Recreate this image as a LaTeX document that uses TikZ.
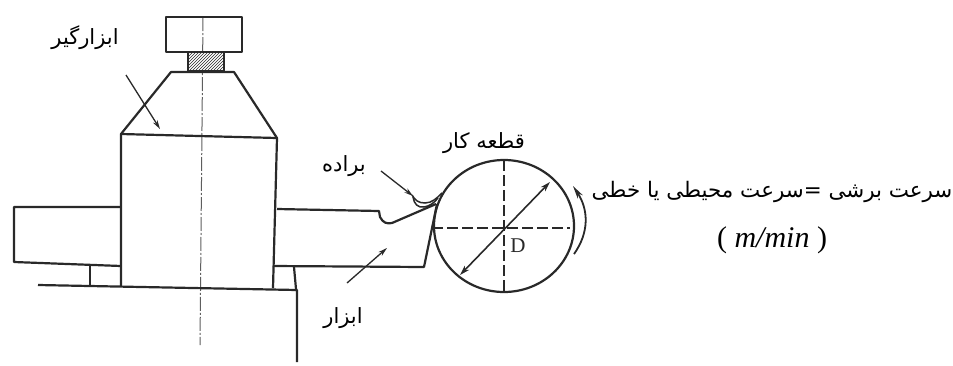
\documentclass[tikz,border=0pt]{standalone}
\usepackage{fontspec}
\usetikzlibrary{patterns,arrows.meta}
\TeXXeTstate=1
\newfontfamily\arabicfont[Script=Arabic]{DejaVu Sans}
\setmainfont{Liberation Serif}
\definecolor{ink}{gray}{0.16}
\tikzset{
  part/.style={draw=ink,line width=2.2pt,line join=round},
  thin part/.style={draw=ink,line width=1.5pt},
  axis/.style={draw=ink!75,line width=1pt,dash pattern=on 14pt off 2pt on 2pt off 2pt},
  dashline/.style={draw=ink,line width=1.4pt,dash pattern=on 11pt off 4pt},
  leader/.style={draw=ink,line width=1.3pt,-{Stealth[length=9pt,width=5pt]}},
  label/.style={font=\arabicfont\fontsize{21}{24}\selectfont,text=black,inner sep=0pt,anchor=center},
}
\begin{document}
\begin{tikzpicture}[x=1pt,y=-1pt]
\useasboundingbox (0,0) rectangle (953,365);
% axis
\coordinate (axT) at (203,17); \coordinate (axB) at (200,345);
\draw[axis] (axT) -- (axB);
% top cap and hatched neck
\draw[part] (166,17) rectangle (242,52);
\fill[white] (188,52) rectangle (224,71);
\draw[pattern=north east lines,pattern color=ink,draw=ink,line width=1.6pt] (188,52) rectangle (224,71);
% tool holder
\coordinate (hTL) at (171,72); \coordinate (hTR) at (234,72);
\coordinate (hML) at (121,134); \coordinate (hMR) at (277,138);
\coordinate (hBL) at (121,286); \coordinate (hBR) at (273,288);
\draw[part] (hBL) -- (hML) -- (hTL) -- (hTR) -- (hMR) -- (hBR);
\draw[part] (hML) -- (hMR);
% left block
\draw[part] (121,207) -- (14,207) -- (14,262) -- (121,266);
\draw[part] (90,265) -- (90,286);
% base
\draw[part] (38,285) -- (297,290) -- (297,362);
\draw[part] (294,267) -- (296,289);
% tool
\draw[part] (277,209) -- (379,211) -- (380,217) .. controls (383,223) and (387,224) .. (392,223) -- (436,204);
\draw[part] (273,266) -- (424,267) -- (437,204);
% chip
\draw[thin part] (412,195) .. controls (415,200) and (418,203) .. (425,203) .. controls (432,203) and (437,198) .. (442,193);
\draw[thin part] (413,197) .. controls (414,204) and (418,208) .. (424,207) .. controls (430,206) and (434,203) .. (438,198);
% workpiece
\coordinate (wc) at (504,226);
\draw[part] (wc) ellipse [x radius=70,y radius=66];
\draw[dashline] (432,228) -- (570,228);
\draw[dashline] (504,160) -- (504,292);
\draw[draw=ink,line width=1.6pt,{Stealth[length=10pt,width=6pt]}-{Stealth[length=10pt,width=6pt]}] (460,275) -- (550,182);
\node[font=\fontsize{21}{23}\selectfont,text=ink,inner sep=0pt] (D) at (518,246) {D};
% rotation arrow
\draw[draw=ink,line width=1.8pt,-{Stealth[length=13pt,width=6pt]}] (574,254) .. controls (589,233) and (589,210) .. (573,186);
% labels
\node[label] (holder) at (85,38) {\beginR ابزارگیر\endR};
\node[label] (work) at (484,143) {\beginR قطعه کار\endR};
\node[label] (chip) at (344,166) {\beginR براده\endR};
\node[label] (tool) at (343,318) {\beginR ابزار\endR};
\node[label,font=\arabicfont\fontsize{21.4}{24}\selectfont] (speed) at (772,192) {\beginR سرعت برشی =سرعت محیطی یا خطی\endR};
\node[font=\fontsize{30}{32}\selectfont,inner sep=0pt] (unit) at (772,240) {( \textit{m/min} )};
% leaders
\coordinate (l1a) at (126,75); \coordinate (l1b) at (160,129);
\draw[leader] (l1a) -- (l1b);
\coordinate (l2a) at (381,171); \coordinate (l2b) at (413,196);
\draw[leader] (l2a) -- (l2b);
\coordinate (l3a) at (347,283); \coordinate (l3b) at (387,248);
\draw[leader] (l3a) -- (l3b);
\end{tikzpicture}
\end{document}
